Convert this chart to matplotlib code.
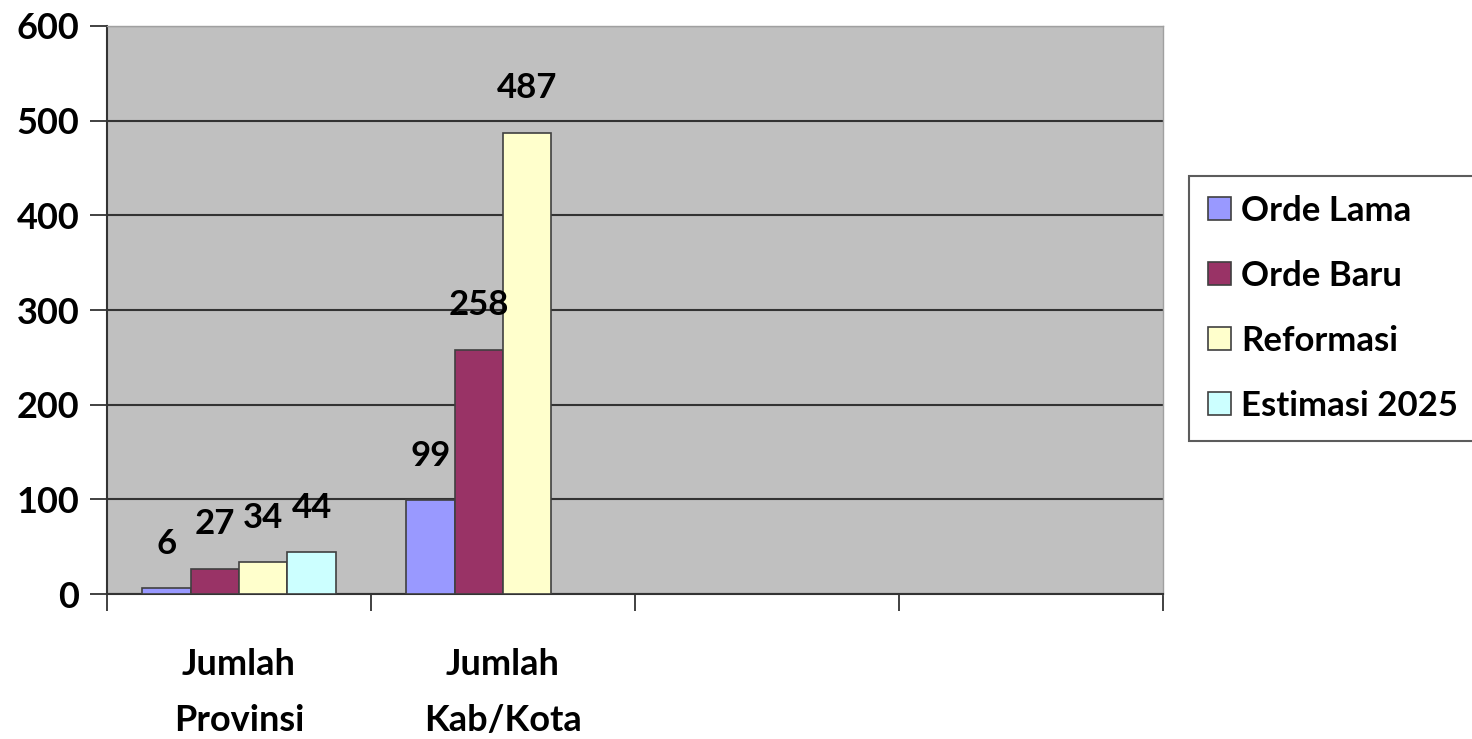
import numpy as np
from matplotlib import pyplot as plt

# values
categories = ['Jumlah\nProvinsi', 'Jumlah\nKab/Kota', '', '']
series = ['Orde Lama', 'Orde Baru', 'Reformasi', 'Estimasi 2025']
orde_lama = [6, 99, np.nan, np.nan]
orde_baru = [27, 258, np.nan, np.nan]
reformasi = [34, 487, np.nan, np.nan]
estimasi_2025 = [44, np.nan, np.nan, np.nan]
colors = ['#9999FF', '#993366', '#FFFFCC', '#CCFFFF']
y_ticks = [0, 100, 200, 300, 400, 500, 600]

plt.rcParams['font.family'] = ['Lato', 'DejaVu Sans']
plt.rcParams['font.weight'] = 'bold'

fig = plt.figure(figsize=(14.72, 7.39), dpi=100)
ax = fig.add_axes([0.0727, 0.196, 0.7174, 0.769])
ax.set_facecolor('#C0C0C0')

x = np.arange(len(categories))
width = 0.183
all_values = [orde_lama, orde_baru, reformasi, estimasi_2025]
for i, (name, vals, col) in enumerate(zip(series, all_values, colors)):
    pos = x + (i - 1.5) * width
    ax.bar(pos, vals, width, color=col, edgecolor='#404040', linewidth=1.2,
           label=name, zorder=3)
    for px, v in zip(pos, vals):
        if np.isnan(v):
            continue
        ax.annotate(f'{v:g}', (px, v), xytext=(0, 32), textcoords='offset points',
                    ha='center', va='center', fontsize=25, fontweight='bold',
                    zorder=5)

ax.set_xlim(-0.5, len(categories) - 0.5)
ax.set_ylim(0, 600)
ax.set_yticks(y_ticks)
ax.yaxis.grid(True, color='#333333', linewidth=1.5, zorder=1)
ax.tick_params(axis='y', length=12, width=1.3, color='#333333', labelsize=26, pad=8)

# category boundaries get ticks, labels sit at the centres
ax.set_xticks(np.arange(len(categories) + 1) - 0.5)
ax.set_xticklabels([])
ax.set_xticks(x, minor=True)
ax.set_xticklabels(categories, minor=True, fontsize=26, fontweight='bold',
                   linespacing=1.85)
ax.tick_params(axis='x', which='major', length=12, width=1.3, color='#333333')
ax.tick_params(axis='x', which='minor', length=0, pad=39)

for side in ['left', 'bottom']:
    ax.spines[side].set_color('#333333')
    ax.spines[side].set_linewidth(1.5)
for side in ['top', 'right']:
    ax.spines[side].set_color('#A0A0A0')
    ax.spines[side].set_linewidth(1.0)

leg = fig.legend(loc='upper left', bbox_to_anchor=(0.808, 0.762), fontsize=25,
                 frameon=True, fancybox=False, edgecolor='#333333',
                 handlelength=0.65, handleheight=0.65, handletextpad=0.3,
                 labelspacing=0.95, borderpad=0.55, borderaxespad=0)
leg.get_frame().set_linewidth(1.5)

fig.savefig('out.png', dpi=100)
